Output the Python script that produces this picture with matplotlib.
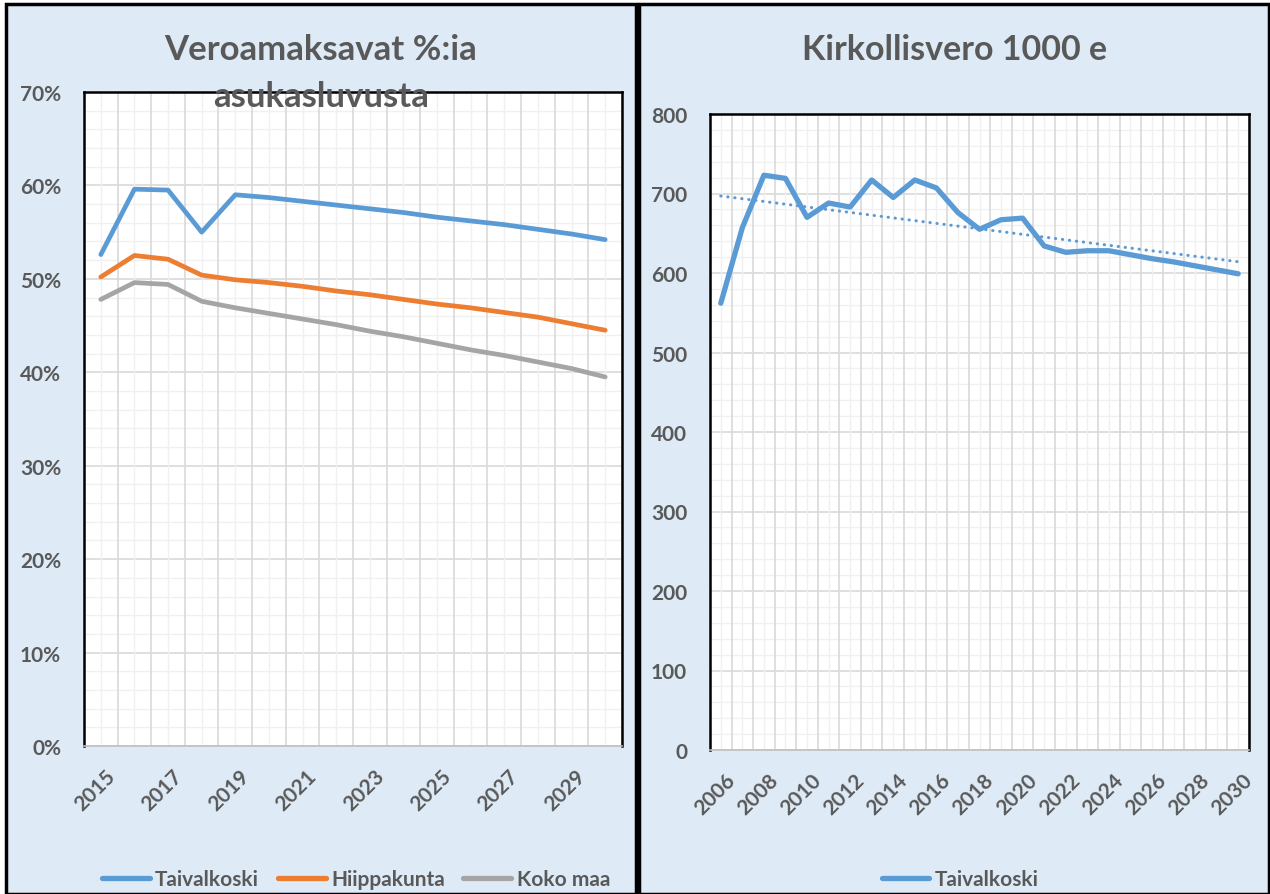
import matplotlib
matplotlib.use('Agg')
import matplotlib.pyplot as plt
import matplotlib.transforms as mtransforms
import numpy as np
from matplotlib.patches import Rectangle
from matplotlib.lines import Line2D

# Left chart data (share of population paying church tax)
years_left = list(range(2015, 2031))
taivalkoski_pct = [52.6, 59.6, 59.5, 55.0, 59.0, 58.7, 58.3, 57.9, 57.5, 57.1,
                   56.6, 56.2, 55.8, 55.3, 54.8, 54.2]
hiippakunta_pct = [50.2, 52.5, 52.1, 50.4, 49.9, 49.6, 49.2, 48.7, 48.3, 47.8,
                   47.3, 46.9, 46.4, 45.9, 45.2, 44.5]
kokomaa_pct = [47.8, 49.6, 49.4, 47.6, 46.9, 46.3, 45.7, 45.1, 44.4, 43.8,
               43.1, 42.4, 41.8, 41.1, 40.4, 39.5]

# Right chart data (church tax, 1000 e)
years_right = list(range(2006, 2031))
kirkollisvero = [562, 657, 723, 719, 670, 688, 683, 717, 695, 717, 707, 676,
                 655, 667, 669, 634, 626, 628, 628, 623, 618, 614, 609, 604, 599]

BG = '#DEEAF6'
TEXT = '#595959'
BLUE = '#5B9BD5'
ORANGE = '#ED7D31'
GRAY = '#A5A5A5'
FONT = ['Lato', 'DejaVu Sans']

plt.rcParams['font.family'] = FONT
plt.rcParams['font.weight'] = 'bold'

W, H = 1270, 895
fig = plt.figure(figsize=(W / 100, H / 100), dpi=100)
fig.patch.set_facecolor('white')

# panel backgrounds with borders
for x0, x1 in [(6, 636), (639, 1269)]:
    fig.patches.append(Rectangle((x0 / W, 0), (x1 - x0) / W, (H - 5) / H,
                                 transform=fig.transFigure, facecolor=BG,
                                 edgecolor='black', linewidth=2.5, zorder=-5))


def style_axes(ax, n_cat, y_major, y_minor, ymax):
    ax.set_facecolor('white')
    ax.set_xlim(-0.5, n_cat - 0.5)
    ax.set_ylim(0, ymax)
    trans = ax.get_xaxis_transform()
    ax.vlines(np.arange(n_cat), 0, 1, transform=trans, color='#F0F0F0', lw=1, zorder=1)
    ax.vlines(np.arange(-0.5, n_cat), 0, 1, transform=trans, color='#D9D9D9', lw=1.2, zorder=1)
    ax.set_yticks(np.arange(0, ymax + 1e-9, y_major))
    ax.set_yticks(np.arange(0, ymax + 1e-9, y_minor), minor=True)
    ax.grid(True, axis='y', which='minor', color='#F0F0F0', lw=1, zorder=1)
    ax.grid(True, axis='y', which='major', color='#D9D9D9', lw=1.2, zorder=1)
    ax.set_axisbelow(True)
    for s in ['top', 'left', 'right']:
        ax.spines[s].set_color('black')
        ax.spines[s].set_linewidth(1.8)
    ax.spines['bottom'].set_color('#BFBFBF')
    ax.spines['bottom'].set_linewidth(1.2)
    ax.tick_params(which='both', length=0, colors=TEXT, labelsize=15)
    ax.tick_params(axis='y', pad=16.5)
    ax.tick_params(axis='x', pad=14)


def rotate_xlabels(ax):
    shift = mtransforms.ScaledTranslation(4 / 100, 0, fig.dpi_scale_trans)
    for lab in ax.get_xticklabels():
        lab.set_rotation(45)
        lab.set_ha('right')
        lab.set_rotation_mode('anchor')
        lab.set_transform(lab.get_transform() + shift)


# ---- Left chart ----
axl = fig.add_axes([84 / W, (H - 747) / H, 538 / W, 654 / H])
style_axes(axl, len(years_left), 10, 2, 70)
xl = np.arange(len(years_left))
axl.plot(xl, taivalkoski_pct, color=BLUE, lw=3.4, solid_capstyle='round', zorder=3)
axl.plot(xl, hiippakunta_pct, color=ORANGE, lw=3.4, solid_capstyle='round', zorder=3)
axl.plot(xl, kokomaa_pct, color=GRAY, lw=3.4, solid_capstyle='round', zorder=3)
axl.set_yticklabels([f'{v}%' for v in range(0, 71, 10)])
axl.set_xticks(xl[::2])
axl.set_xticklabels([str(y) for y in years_left[::2]])
rotate_xlabels(axl)
fig.text(321 / W, 1 - 50 / H, 'Veroamaksavat %:ia', ha='center', va='center',
         fontsize=25, color=TEXT, fontweight='bold')
fig.text(321 / W, 1 - 97 / H, 'asukasluvusta', ha='center', va='center',
         fontsize=25, color=TEXT, fontweight='bold', zorder=5)

handles_l = [Line2D([], [], color=c, lw=3.8, solid_capstyle='round') for c in (BLUE, ORANGE, GRAY)]
fig.legend(handles_l, ['Taivalkoski', 'Hiippakunta', 'Koko maa'], loc='center',
           bbox_to_anchor=(356 / W, 1 - 880 / H), ncol=3, frameon=False,
           fontsize=15, labelcolor=TEXT, handlelength=2.3, handletextpad=0.25,
           columnspacing=0.9)

# ---- Right chart ----
axr = fig.add_axes([710 / W, (H - 751) / H, 539 / W, 636 / H])
style_axes(axr, len(years_right), 100, 20, 800)
xr = np.arange(len(years_right))
axr.plot(xr, kirkollisvero, color=BLUE, lw=3.8, solid_capstyle='round', zorder=3)
coef = np.polyfit(xr, kirkollisvero, 1)
axr.plot(xr, np.polyval(coef, xr), color=BLUE, lw=2.2, ls=(0, (0.1, 2.2)),
         dash_capstyle='round', zorder=3)
axr.set_xticks(xr[::2])
axr.set_xticklabels([str(y) for y in years_right[::2]])
rotate_xlabels(axr)
fig.text(955 / W, 1 - 50 / H, 'Kirkollisvero 1000 e', ha='center', va='center',
         fontsize=24.5, color=TEXT, fontweight='bold')

handles_r = [Line2D([], [], color=BLUE, lw=3.8, solid_capstyle='round')]
fig.legend(handles_r, ['Taivalkoski'], loc='center',
           bbox_to_anchor=(960 / W, 1 - 880 / H), frameon=False,
           fontsize=15, labelcolor=TEXT, handlelength=2.3, handletextpad=0.25)

fig.savefig('out.png', dpi=100, facecolor=fig.get_facecolor())
